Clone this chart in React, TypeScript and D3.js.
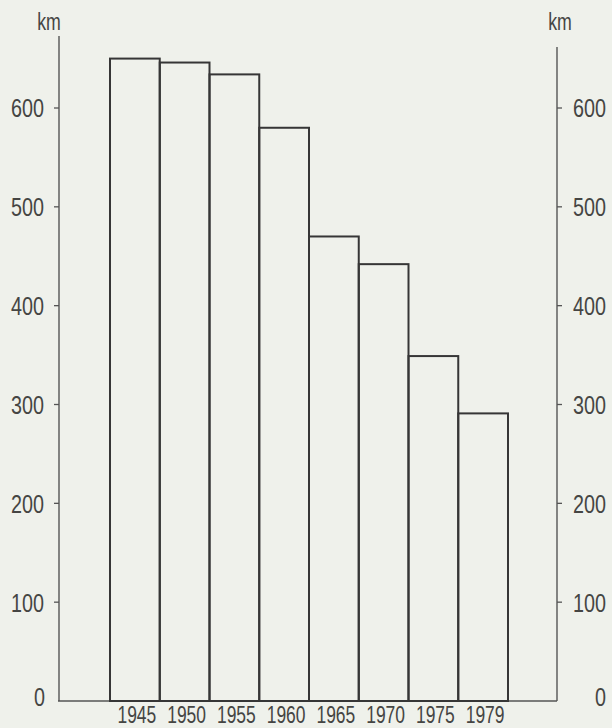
import React from "react";
import * as d3 from "d3";

const years = ["1945", "1950", "1955", "1960", "1965", "1970", "1975", "1979"];
const lengths = [650, 646, 634, 580, 470, 442, 349, 291];
const yTicks = [0, 100, 200, 300, 400, 500, 600];
const unitLabel = "km";

const W = 612;
const H = 728;
const axisL = 59;
const axisR = 557;
const baseY = 701;

export default function App() {
  const x = d3.scaleBand<string>().domain(years).range([110, 508]).padding(0);
  const y = d3.scaleLinear().domain([0, 600]).range([baseY, 108]);
  const lineCol = "#363636";
  const textCol = "#454543";
  const font = "'Liberation Sans', Arial, sans-serif";

  const label = (
    key: string,
    tx: number,
    ty: number,
    txt: string,
    size: number,
    sx: number,
    anchor: "start" | "middle" | "end",
    dy?: string
  ) => (
    <g key={key} transform={`translate(${tx},${ty}) scale(${sx},1)`}>
      <text
        x={0}
        y={0}
        dy={dy}
        textAnchor={anchor}
        fontFamily={font}
        fontSize={size}
        fill={textCol}
      >
        {txt}
      </text>
    </g>
  );

  return (
    <svg
      width={W}
      height={H}
      style={{ position: "absolute", left: 0, top: 0, background: "#eff1eb" }}
    >
      <rect x={0} y={0} width={W} height={H} fill="#eff1eb" />
      {/* unit labels */}
      {label("kmL", 49, 30, unitLabel, 24, 0.74, "middle")}
      {label("kmR", 560, 30, unitLabel, 24, 0.74, "middle")}
      {/* axis lines */}
      <line x1={axisL} x2={axisL} y1={36} y2={baseY} stroke="#555" strokeWidth={1.4} />
      <line x1={axisR} x2={axisR} y1={47} y2={baseY} stroke="#555" strokeWidth={1.4} />
      {/* ticks + labels */}
      {yTicks.map((t) => (
        <g key={t}>
          {t > 0 && (
            <>
              <line x1={axisL - 5} x2={axisL} y1={y(t)} y2={y(t)} stroke="#555" strokeWidth={1.3} />
              <line x1={axisR} x2={axisR + 5} y1={y(t)} y2={y(t)} stroke="#555" strokeWidth={1.3} />
            </>
          )}
          {label("l" + t, t === 0 ? 45 : 44, y(t) + (t === 0 ? -4 : 0), String(t), 26, 0.76, "end", "0.36em")}
          {label("r" + t, 606, y(t) + (t === 0 ? -4 : 0), String(t), 26, 0.76, "end", "0.36em")}
        </g>
      ))}
      {/* baseline */}
      <line x1={axisL - 1} x2={axisR} y1={baseY} y2={baseY} stroke="#555" strokeWidth={1.5} />
      {/* bars */}
      {years.map((yr, i) => (
        <rect
          key={yr}
          x={x(yr)!}
          y={y(lengths[i])}
          width={x.bandwidth()}
          height={baseY - y(lengths[i])}
          fill="none"
          stroke={lineCol}
          strokeWidth={2}
        />
      ))}
      {/* year labels */}
      {years.map((yr) =>
        label("y" + yr, x(yr)! + x.bandwidth() / 2 + 2, 723, yr, 23, 0.76, "middle")
      )}
    </svg>
  );
}
